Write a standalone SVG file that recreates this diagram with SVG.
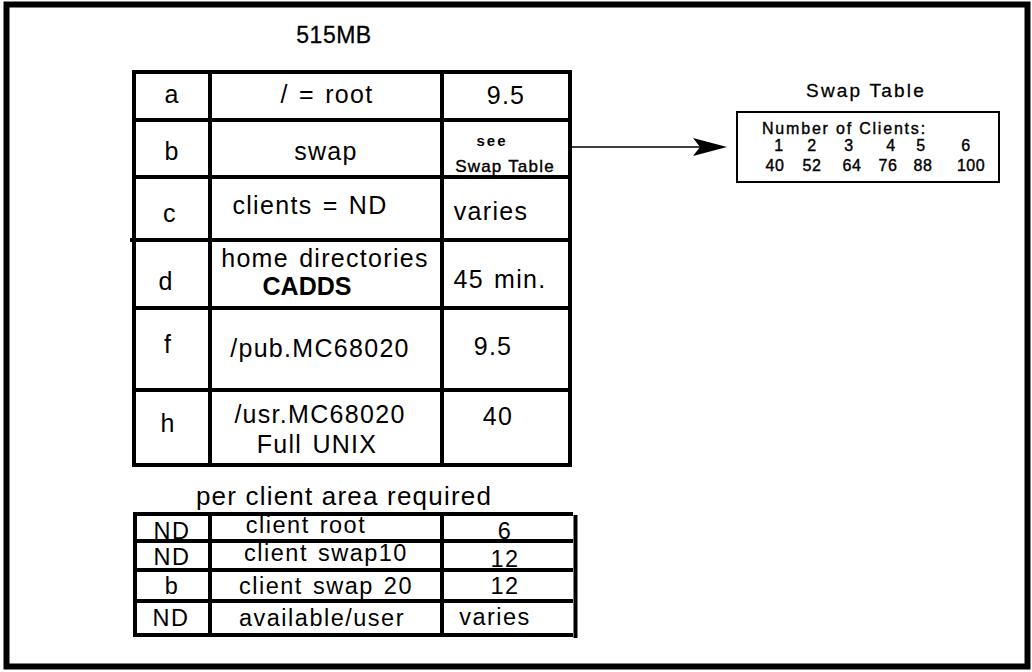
<svg xmlns="http://www.w3.org/2000/svg" width="1032" height="672" viewBox="0 0 1032 672">
<defs>
<style>
text{font-family:"Liberation Sans",Arial,sans-serif;fill:#000;text-anchor:middle}
.t{font-size:25px;letter-spacing:1.3px;word-spacing:2px}
.b{font-size:23.5px;letter-spacing:1.5px;word-spacing:2px}
.n{font-size:16px;letter-spacing:0.5px;stroke:#000;stroke-width:0.4}
.line{stroke:#000;stroke-width:4;fill:none}
.thin{stroke:#000;stroke-width:1.6;fill:none}
</style>
</defs>
<rect x="0" y="0" width="1032" height="672" fill="#fff"/>
<rect x="6.5" y="4.5" width="1021" height="662" fill="none" stroke="#000" stroke-width="6"/>
<text x="334" y="43" style="font-size:23px;letter-spacing:0.5px;stroke:#000;stroke-width:0.3">515MB</text>

<g id="main-table">
<rect class="line" x="134" y="72" width="436" height="393"/>
<line class="line" x1="210" y1="72" x2="210" y2="465"/>
<line class="line" x1="442" y1="72" x2="442" y2="465"/>
<line class="line" x1="134" y1="120" x2="570" y2="120"/>
<line class="line" x1="134" y1="177" x2="570" y2="177"/>
<line class="line" x1="130" y1="240" x2="570" y2="240"/>
<line class="line" x1="134" y1="308" x2="570" y2="308"/>
<line class="line" x1="134" y1="390" x2="570" y2="390"/>
</g>
<g id="row-a">
<text class="t" x="172" y="103">a</text>
<text class="t" x="327" y="103">/ = root</text>
<text class="t" x="506" y="104">9.5</text>
</g>
<g id="row-b">
<text class="t" x="172" y="160">b</text>
<text class="t" x="326" y="160">swap</text>
<text x="492" y="146" style="font-size:15px;font-weight:bold;letter-spacing:2px">see</text>
<text x="505" y="172" style="font-size:17px;letter-spacing:1.2px;stroke:#000;stroke-width:0.4">Swap Table</text>
</g>
<g id="row-c">
<text class="t" x="170" y="222">c</text>
<text class="t" x="310" y="214">clients = ND</text>
<text class="t" x="491" y="220">varies</text>
</g>
<g id="row-d">
<text class="t" x="166" y="290">d</text>
<text class="t" x="325" y="267">home directories</text>
<text x="307" y="295" style="font-size:25px;font-weight:bold">CADDS</text>
<text class="t" x="500" y="288">45 min.</text>
</g>
<g id="row-f">
<text class="t" x="168" y="353">f</text>
<text class="t" x="320" y="357">/pub.MC68020</text>
<text class="t" x="493" y="355">9.5</text>
</g>
<g id="row-h">
<text class="t" x="168" y="432">h</text>
<text class="t" x="320" y="423">/usr.MC68020</text>
<text class="t" x="317" y="453">Full UNIX</text>
<text class="t" x="498" y="425">40</text>
</g>

<g id="connectors">
<line class="thin" x1="570" y1="147" x2="700" y2="147"/>
<polygon points="693,138 727,147 693,156 700,147" fill="#000"/>
</g>

<g id="swap-table">
<text x="866" y="97" style="font-size:19px;letter-spacing:2.2px;stroke:#000;stroke-width:0.3">Swap Table</text>
<rect x="737" y="112" width="262" height="70" fill="none" stroke="#000" stroke-width="2"/>
<text x="762" y="134" style="font-size:16px;letter-spacing:1.8px;text-anchor:start;stroke:#000;stroke-width:0.4">Number of Clients:</text>
<g class="n">
<text x="779" y="151">1</text><text x="812" y="151">2</text><text x="849" y="151">3</text><text x="891" y="151">4</text><text x="921" y="151">5</text><text x="966" y="151">6</text>
<text x="775" y="171">40</text><text x="812" y="171">52</text><text x="852" y="171">64</text><text x="888" y="171">76</text><text x="923" y="171">88</text><text x="971" y="171">100</text>
</g>
</g>

<g id="client-table">
<text x="344" y="505" style="font-size:26px;letter-spacing:1.2px">per client area required</text>
<line class="line" x1="135" y1="514" x2="573" y2="514"/>
<line class="line" x1="135" y1="541" x2="573" y2="541"/>
<line class="line" x1="135" y1="570" x2="573" y2="570"/>
<line class="line" x1="135" y1="601" x2="573" y2="601"/>
<line class="line" x1="135" y1="635" x2="573" y2="635"/>
<line class="line" x1="135" y1="512" x2="135" y2="637"/>
<line class="line" x1="210" y1="512" x2="210" y2="637"/>
<line class="line" x1="442" y1="512" x2="442" y2="637"/>
<line class="line" x1="575.5" y1="515" x2="575.5" y2="638"/>
</g>
<g id="client-rows">
<text class="b" x="172" y="539">ND</text>
<text class="b" x="306" y="533">client root</text>
<text class="b" x="505" y="539">6</text>
<text class="b" x="172" y="565">ND</text>
<text class="b" x="326" y="561">client swap10</text>
<text class="b" x="505" y="567">12</text>
<text class="b" x="172" y="594">b</text>
<text class="b" x="326" y="594">client swap 20</text>
<text class="b" x="505" y="594">12</text>
<text class="b" x="171" y="626">ND</text>
<text class="b" x="322" y="626">available/user</text>
<text class="b" x="495" y="625">varies</text>
</g>
</svg>
